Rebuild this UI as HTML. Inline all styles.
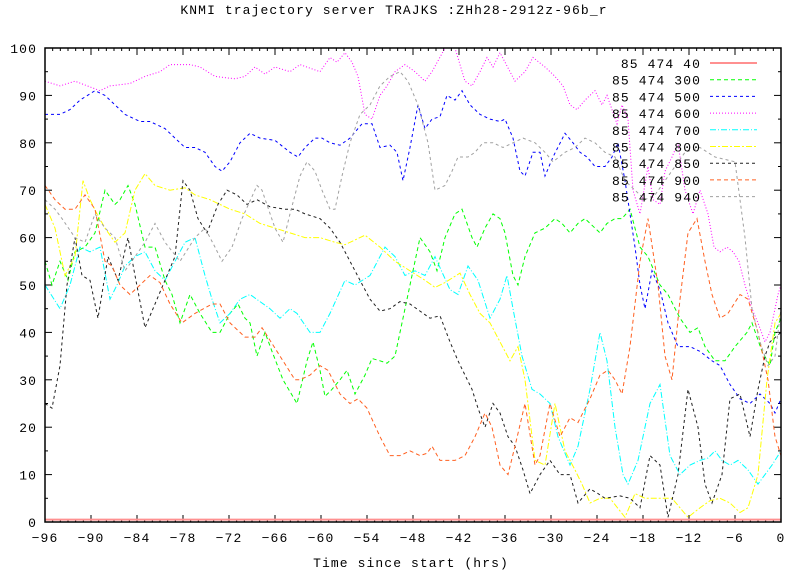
<!DOCTYPE html>
<html><head><meta charset="utf-8"><style>
body{margin:0;background:#fff;width:789px;height:571px;overflow:hidden}
svg text{font-family:"Liberation Mono",monospace;font-size:13px;fill:#000;letter-spacing:1.1px}
</style></head><body>
<svg id="s" width="789" height="571" xmlns="http://www.w3.org/2000/svg">
<rect width="789" height="571" fill="#fff"/>
<text x="394" y="14" text-anchor="middle">KNMI trajectory server TRAJKS :ZHh28-2912z-96b_r</text>
<text x="411" y="567" text-anchor="middle">Time since start (hrs)</text>
<g id="ax"></g>
<g id="series" fill="none" stroke-width="1"></g>
<g id="leg"></g>
<rect x="45" y="48" width="736" height="474" fill="none" stroke="#000" stroke-width="1.5"/>
</svg>
<script>
var NS="http://www.w3.org/2000/svg";
function el(t,a,p,txt){var e=document.createElementNS(NS,t);for(var k in a)e.setAttribute(k,a[k]);if(txt!=null)e.textContent=txt;p.appendChild(e);return e;}
var ax=document.getElementById('ax');
var X0=45,X1=781,Y0=522,Y1=48;
function Y(v){return Y0-v*4.74;}
for(var v=0;v<=100;v+=10){var y=Y(v);
el('line',{x1:X0,y1:y,x2:X0+7,y2:y,stroke:'#000'},ax);
el('line',{x1:X1,y1:y,x2:X1-7,y2:y,stroke:'#000'},ax);
el('text',{x:37,y:y+5,'text-anchor':'end'},ax,String(v));
if(v<100){var ym=Y(v+5);el('line',{x1:X0,y1:ym,x2:X0+3,y2:ym,stroke:'#000'},ax);el('line',{x1:X1,y1:ym,x2:X1-3,y2:ym,stroke:'#000'},ax);}
}
for(var h=0;h<=96;h++){var x=X0+h*(X1-X0)/96;var maj=(h%6==0);var L=maj?7:3;
el('line',{x1:x,y1:Y0,x2:x,y2:Y0-L,stroke:'#000'},ax);
el('line',{x1:x,y1:Y1,x2:x,y2:Y1+L,stroke:'#000'},ax);
if(maj){var lab=h-96;el('text',{x:x,y:542,'text-anchor':'middle'},ax,lab==0?'0':('\u2212'+(-lab)));}
}
var S=[
{n:'85 474 40',c:'#ff9090',d:'',w:2,p:[45,0.5,781,0.5]},
{n:'85 474 300',c:'#00ff00',d:'4,3',p:[45,55,52,50,60,55,68,51,75,57,85,58,95,61,105,70,115,67,120,68,128,71,135,67,145,58,155,58,165,51,172,48,180,42,190,48,200,44,212,40,220,40,230,44,238,46,245,43,250,42,257,35,265,40,272,36,283,30,297,25,307,34,313,38,320,32,325,26.5,332,28,340,30,347,32,355,27,365,31,372,34.5,380,34,387,33.5,395,35,410,50,420,60,430,57,437,53,445,60,455,65,462,66,472,60,477,58,485,62,493,65,500,64,505,61,513,52,518,50,525,56,535,61,545,62,555,64,562,63,570,61,578,63,585,64,595,62,600,61,607,63,615,64,622,64,630,66,640,58,648,56,660,50,668,48,680,43,690,40,698,41,705,37,715,34,725,34,735,37,747,40,752,42,762,36,770,33,775,40,781,43]},
{n:'85 474 500',c:'#0000ff',d:'3,3',p:[45,86,60,86,70,87,80,89,95,91,105,90,115,88,125,86,140,84.5,150,84.5,165,83,175,81,185,79,195,79,205,78,215,75,222,74,230,76,240,80,250,82,260,81,275,80.5,290,78,298,77,305,79,315,81,322,81,330,80,340,79.5,350,81,362,84,372,84,380,79,390,79.5,397,78,403,72,410,79,418,88,425,83,432,85,440,85.5,447,90,455,89,462,91,470,88,480,86,490,85,500,84.5,505,85,513,81,520,74,525,73,533,78,540,78,545,73,553,77,565,82,573,80,580,78,587,77,595,75,605,75,612,77,618,80,625,72,630,65,635,58,640,50,645,45,652,53,660,49,668,42,678,37,690,37,700,36,712,34,720,33,730,29,740,26,750,25,760,27,770,25,775,23,781,26]},
{n:'85 474 600',c:'#ff00ff',d:'1,2',p:[45,93,60,92,75,93,100,91,110,92,130,92.5,145,94,160,95,170,96.5,190,96.5,200,96,215,94,235,93.5,245,94,255,96,265,94.5,275,96,290,95,300,96.5,320,95,330,98,337,97,345,99,352,97,358,94,365,86,372,85,380,90,387,92,395,95,405,96.5,415,95,425,93,432,95,445,100,455,100,465,93,472,92,480,95,487,98,493,96,500,99,505,97,515,93,525,95,533,98,545,96,555,94,563,92,570,88,577,87,585,89,595,91,602,88,607,90,612,87,617,84,622,88,628,85,633,70,640,65,648,75,653,68,660,67,665,74,672,77,678,80,685,70,693,65,700,70,708,65,714,58,720,57,727,58,733,57,739,55,745,50,752,45,758,42,765,38,770,40,778,48,781,50]},
{n:'85 474 700',c:'#00ffff',d:'6,2,1,2',p:[45,50,60,45,70,50,80,58,90,57,100,58,110,47,117,50,125,54,135,56,145,57,155,53,165,51,175,55,185,59,195,60,205,52,212,47,220,42,230,44,240,47,250,48,260,46.5,270,45,280,43,290,45,297,44,310,40,320,40,330,44,345,51,355,50,370,52,385,58,395,56,405,52,415,53,425,52,435,56,450,49,458,48,468,54,478,51,490,43,500,47,507,52,513,45,522,35,532,28,540,27,550,25,558,18,570,12,578,16,590,28,600,40,607,34,615,20,623,10,628,8,638,13,650,25,660,29,670,14,680,10,690,12,700,13,708,13.5,715,15,722,13,730,12,738,13,748,11,758,8,765,10,772,12,781,15]},
{n:'85 474 800',c:'#ffff00',d:'6,2,2,2',p:[45,67,55,62,65,52,75,56,83,72,90,68,97,65,105,62,115,59,125,61,135,70,145,73.5,155,71,170,70,185,70.5,195,69,210,68,230,66,245,65,260,63,275,62,290,61,305,60,320,60,335,59,345,58.5,365,60.5,380,58,395,55,410,53,425,51,435,49.5,445,50.5,460,52.5,470,48,480,44,490,42,500,38,510,34,518,37,525,30,535,13,545,12,555,25,565,15,575,11,582,8,590,4,600,5,610,5,625,1,635,6,645,5,660,5,672,5,680,3,688,1,700,3,710,4.5,720,5,730,4,740,2,748,3,758,10,767,30,775,42,781,44]},
{n:'85 474 850',c:'#202020',d:'3,3',p:[45,25,52,24,60,33,67,50,75,60,82,52,90,51,98,43,108,56,118,51,128,60,135,52,145,41,155,46,165,51,175,56,183,72,190,70,198,64,207,61,218,67,227,70,237,69,247,67,257,68,270,66.5,285,66,295,66,305,65,320,64,330,62,340,59,350,55,360,51,370,47,380,44.5,390,45,400,46.5,410,46,420,44.5,430,43,440,43.5,450,38,458,34,465,31,472,28,478,24,485,20,493,25,500,23,508,18,515,16,523,11,530,6,540,10,550,13,560,10,570,10,578,4,590,7,598,6,605,5,620,5.5,630,5,640,3,650,14,660,12,668,1,678,10,688,28,698,20,705,8,712,4,722,10,730,26,740,27,750,18,758,28,765,35,770,38,781,40]},
{n:'85 474 900',c:'#ff6020',d:'4,3',p:[45,71,55,68,65,66,75,66,85,69,95,66,105,55,112,54,120,50,130,48,140,50,150,52,160,50.5,170,46,182,42,195,44,212,46,220,46,230,42,245,39,255,39,262,41,280,35,295,30,300,30,310,31,320,33,328,32,340,27,350,25,358,26,367,24,380,18,390,14,400,14,410,15,420,14,427,14.5,432,16,440,13,455,13,465,14,475,18,485,23,492,20,500,12,508,10,515,16,525,25,535,12,540,14,550,25,560,18,570,22,578,21,590,26,600,31,608,32,615,30,622,27,630,37,640,55,648,64,658,50,665,35,672,30,680,47,688,61,697,64,705,55,712,48,720,43,728,44,740,48,748,47,758,40,768,30,775,18,781,14]},
{n:'85 474 940',c:'#a0a0a0',d:'3,3',p:[45,68,55,66,62,64,75,60,85,59,95,65,105,62,115,60,125,53,135,56,145,59,155,63,165,59,180,55,195,60,205,62,215,58,222,55,232,58,242,64,257,71,262,70,275,62,283,59,290,65,300,73,307,76,315,74,322,70,330,66,335,66,342,73,350,80,360,86,370,88,380,92,390,94,400,95,408,93,418,88,428,80,435,70,445,71,452,74,458,77,468,77,475,78,483,80,493,80,503,79,513,80,523,81,535,80,545,78,553,76,565,78,575,79,585,81,595,80,605,78,615,77,625,72,635,70,645,68,655,69,665,72,675,75,685,78,700,79,715,77,735,76,745,60,752,45,760,38,768,33,775,35,781,45]}
];
var sg=document.getElementById('series'),lg=document.getElementById('leg');
S.forEach(function(s,i){
var pts=[];for(var j=0;j<s.p.length;j+=2)pts.push(s.p[j]+','+Y(s.p[j+1]).toFixed(1));
var a={points:pts.join(' '),stroke:s.c,'stroke-width':s.w||1};if(s.d)a['stroke-dasharray']=s.d;
el('polyline',a,sg);
var ly=63+i*16.7;
el('text',{x:701,y:ly+5,'text-anchor':'end'},lg,s.n);
var b={x1:710,y1:ly,x2:757,y2:ly,stroke:s.c,'stroke-width':s.w||1};if(s.d)b['stroke-dasharray']=s.d;
el('line',b,lg);
});
</script>
</body></html>
